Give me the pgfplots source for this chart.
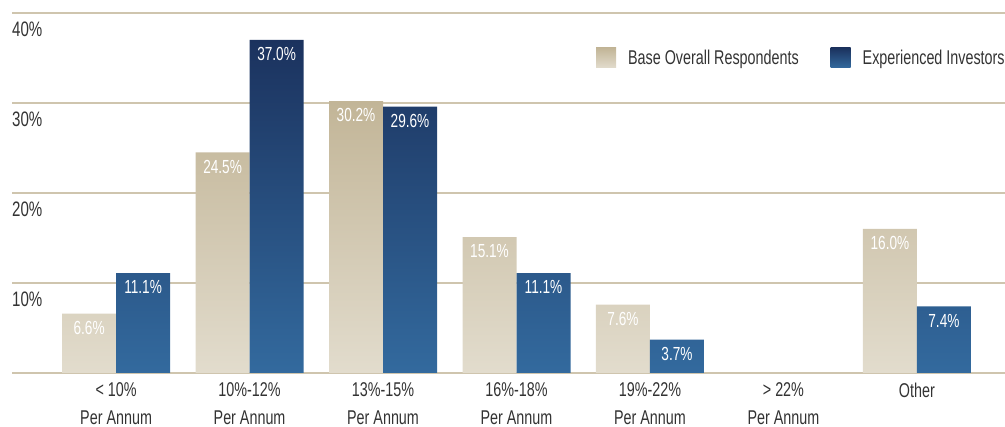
\documentclass[border=0pt]{standalone}
\usepackage{fontspec}
\setmainfont{Liberation Sans}[FakeStretch=0.72]
\usepackage{pgfplots}
\pgfplotsset{compat=1.18}

\definecolor{gridtan}{HTML}{CFC5AE}
\definecolor{basetop}{HTML}{C2B597}
\definecolor{basebot}{HTML}{E2DCCD}
\definecolor{invtop}{HTML}{1B325E}
\definecolor{invbot}{HTML}{336A9E}
\definecolor{txt}{HTML}{333333}

\begin{document}
\begin{tikzpicture}
\path[use as bounding box] (0,0) rectangle (1005bp,427bp);
\begin{axis}[
  at={(12bp,54bp)}, anchor=south west,
  scale only axis,
  width=993bp, height=360bp,
  ybar=0pt,
  bar width=54bp,
  xmin=-0.78, xmax=6.66,
  ymin=0, ymax=40,
  axis line style={draw=none},
  xtick={0,1,2,3,4,5,6},
  xticklabels={{< 10\%\\Per Annum},{10\%-12\%\\Per Annum},{13\%-15\%\\Per Annum},
    {16\%-18\%\\Per Annum},{19\%-22\%\\Per Annum},{> 22\%\\Per Annum},{Other}},
  xticklabel style={align=center, font=\fontsize{20}{28}\selectfont, text=txt, anchor=north, yshift=-2bp},
  major tick style={draw=none},
  ytick={0,10,20,30,40},
  yticklabels={,10\%,20\%,30\%,40\%},
  ymajorgrids=true,
  grid style={draw=gridtan, line width=1.2pt},
  yticklabel style={anchor=north west, inner sep=0pt, yshift=-9bp, xshift=0pt,
    font=\fontsize{21}{22}\selectfont, text=txt},
  /pgf/number format/assume math mode=true,
  nodes near coords={\pgfmathprintnumber[fixed, fixed zerofill, precision=1, assume math mode=true]{\pgfplotspointmeta}\%},
  nodes near coords style={anchor=north, yshift=-4bp, text=white, font=\fontsize{19}{21}\selectfont},
  legend style={at={(0.585,0.875)}, anchor=west, draw=none, fill=none,
    font=\fontsize{20}{22}\selectfont, text=txt, legend columns=2,
    /tikz/every odd column/.append style={column sep=10bp},
    /tikz/every even column/.append style={column sep=30bp}},
  legend image code/.code={\path[#1] (0bp,-10bp) rectangle (20bp,10bp);},
  clip=false,
]
\addplot[draw=none, top color=basetop, bottom color=basebot] coordinates {
  (0,6.6)(1,24.5)(2,30.2)(3,15.1)(4,7.6)(6,16.0)};
\addlegendentry{Base Overall Respondents}
\addplot[draw=none, top color=invtop, bottom color=invbot] coordinates {
  (0,11.1)(1,37.0)(2,29.6)(3,11.1)(4,3.7)(6,7.4)};
\addlegendentry{Experienced Investors}
\end{axis}
\end{tikzpicture}
\end{document}
